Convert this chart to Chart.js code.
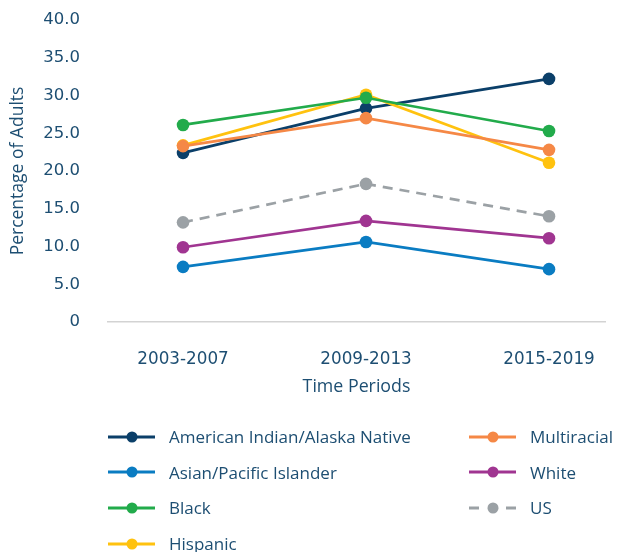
<!DOCTYPE html>
<html>
<head>
<meta charset="utf-8">
<script src="https://cdn.jsdelivr.net/npm/chart.js@4/dist/chart.umd.min.js"></script>
<style>
  body { margin: 0; background: #fff; font-family: "Open Sans", sans-serif; color: #1d4e72; }
  #wrap { position: relative; width: 618px; height: 552px; }
  #chartBox { position: absolute; left: 0; top: 0; width: 618px; height: 400px; }
  #legend { position: absolute; left: 0; top: 0; width: 618px; height: 552px; }
  .item { position: absolute; display: flex; align-items: center; font-size: 17px; white-space: nowrap; }
  .item svg { margin-right: 14px; }
</style>
</head>
<body>
<div id="wrap">
  <div id="chartBox"><canvas id="myChart"></canvas></div>
  <div id="legend"></div>
</div>
<script>
// categories (time periods)
const periods = ['2003-2007', '2009-2013', '2015-2019'];

// series values, percentage of adults
const americanIndian = [22.4, 28.3, 32.2];
const asianPacific = [7.3, 10.6, 7.0];
const black = [26.1, 29.7, 25.3];
const hispanic = [23.4, 30.1, 21.1];
const multiracial = [23.3, 27.0, 22.8];
const white = [9.9, 13.4, 11.1];
const us = [13.2, 18.3, 14.0];

const yTicks = [0, 5, 10, 15, 20, 25, 30, 35, 40];

const textColor = '#1d4e72';

function toPoints(arr) {
    return arr.map((v, i) => ({x: i, y: v}));
}

function makeSet(label, values, color, dashed) {
    return {
        label: label,
        data: toPoints(values),
        borderColor: color,
        backgroundColor: color,
        borderWidth: 2.7,
        borderDash: dashed ? [10, 7] : [],
        pointRadius: 6.3,
        pointHoverRadius: 6.3,
        pointBorderWidth: 0,
        tension: 0
    };
}

// draw order: US in the back
const datasets = [
    makeSet('US', us, '#9ba1a5', true),
    makeSet('White', white, '#a03591', false),
    makeSet('Asian/Pacific Islander', asianPacific, '#0a7cc2', false),
    makeSet('Multiracial', multiracial, '#f58846', false),
    makeSet('Black', black, '#22ab4b', false),
    makeSet('Hispanic', hispanic, '#ffc20f', false),
    makeSet('American Indian/Alaska Native', americanIndian, '#0b3f69', false)
];

const ctx = document.getElementById('myChart').getContext('2d');
Chart.defaults.font.family = '"Open Sans", sans-serif';
Chart.defaults.color = textColor;

const numFont = {family: '"DejaVu Sans", sans-serif', size: 16.5};

const chart = new Chart(ctx, {
    type: 'line',
    data: {datasets: datasets},
    options: {
        responsive: true,
        maintainAspectRatio: false,
        animation: false,
        layout: {padding: {top: 20, right: 13, left: 0, bottom: 0}},
        plugins: {
            legend: {display: false},
            tooltip: {enabled: false}
        },
        scales: {
            x: {
                type: 'linear',
                min: -0.41,
                max: 2.306,
                afterBuildTicks: (axis) => {
                    axis.ticks = periods.map((p, i) => ({value: i}));
                },
                afterFit: (axis) => {
                    axis.height = 78;
                    axis.paddingLeft = 0;
                    axis.paddingRight = 0;
                },
                ticks: {
                    callback: (v) => periods[v],
                    font: {family: '"DejaVu Sans", sans-serif', size: 16.8},
                    padding: 28,
                    maxRotation: 0
                },
                grid: {display: false, drawTicks: false},
                border: {display: true, color: '#d3d3d3', width: 1.5},
                title: {
                    display: true,
                    text: 'Time Periods',
                    font: {size: 17.8},
                    padding: {top: 6, bottom: 2}
                }
            },
            y: {
                min: 0,
                max: 40,
                afterBuildTicks: (axis) => {
                    axis.ticks = yTicks.map(v => ({value: v}));
                },
                afterFit: (axis) => {
                    axis.width = 108;
                    axis.paddingTop = 0;
                    axis.paddingBottom = 0;
                },
                ticks: {
                    callback: (v) => v === 0 ? '0' : v.toFixed(1),
                    font: numFont,
                    padding: 28
                },
                grid: {display: false, drawTicks: false},
                border: {display: false},
                title: {
                    display: true,
                    text: 'Percentage of Adults',
                    font: {size: 17.5},
                    padding: {top: 8, bottom: 8}
                }
            }
        }
    }
});

// two-column legend under the chart
const legendItems = [
    {label: 'American Indian/Alaska Native', color: '#0b3f69', col: 0, row: 0},
    {label: 'Asian/Pacific Islander', color: '#0a7cc2', col: 0, row: 1},
    {label: 'Black', color: '#22ab4b', col: 0, row: 2},
    {label: 'Hispanic', color: '#ffc20f', col: 0, row: 3},
    {label: 'Multiracial', color: '#f58846', col: 1, row: 0},
    {label: 'White', color: '#a03591', col: 1, row: 1},
    {label: 'US', color: '#9ba1a5', col: 1, row: 2, dashed: true}
];

const legend = document.getElementById('legend');
legendItems.forEach(it => {
    let div = document.createElement('div');
    div.className = 'item';
    div.style.left = (it.col === 0 ? 108 : 469) + 'px';
    div.style.top = (425 + it.row * 35.7) + 'px';
    let line = it.dashed
        ? `<line x1="0" y1="8" x2="10" y2="8" stroke="${it.color}" stroke-width="3"/><line x1="37" y1="8" x2="47" y2="8" stroke="${it.color}" stroke-width="3"/>`
        : `<line x1="0" y1="8" x2="47" y2="8" stroke="${it.color}" stroke-width="3"/>`;
    div.innerHTML = `<svg width="47" height="16">${line}<circle cx="24" cy="8" r="5.5" fill="${it.color}"/></svg><span>${it.label}</span>`;
    legend.appendChild(div);
});
</script>
</body>
</html>
